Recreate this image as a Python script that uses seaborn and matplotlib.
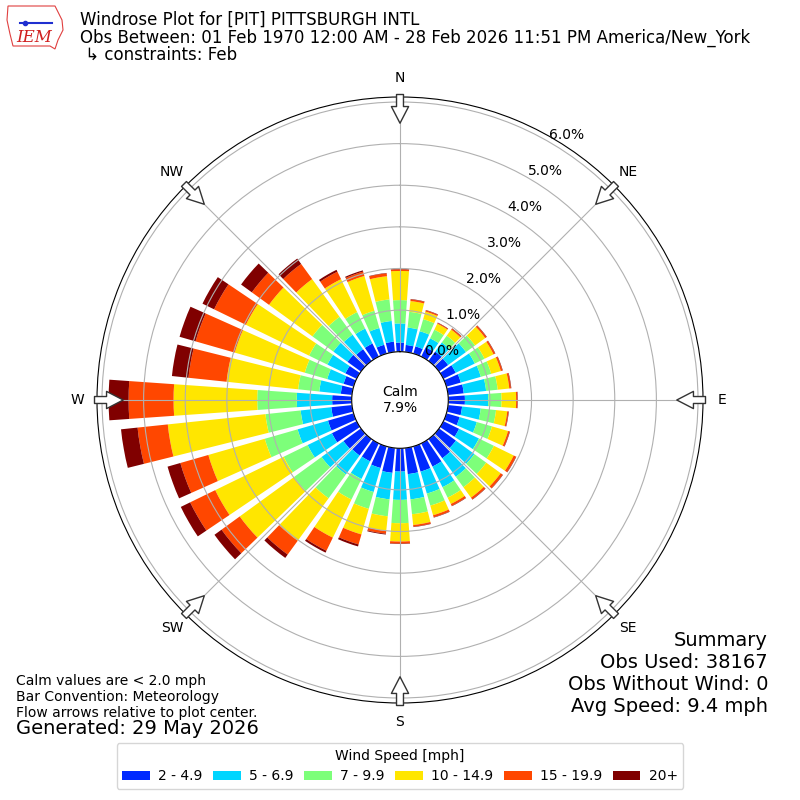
import numpy as np
import matplotlib
matplotlib.use("Agg")
import matplotlib.pyplot as plt
import seaborn as sns
from matplotlib.patches import Patch, Polygon
from matplotlib.lines import Line2D

# ---------------- data (percent of observations, cumulative outer edge per speed class) -------------
directions = list(range(0, 360, 10))
speed_labels = ["2 - 4.9", "5 - 6.9", "7 - 9.9", "10 - 14.9", "15 - 19.9", "20+"]
compass_labels = ["N", "NE", "E", "SE", "S", "SW", "W", "NW"]
ring_values = [0, 1, 2, 3, 4, 5, 6]

edge_2 = [0.22, 0.17, 0.18, 0.25, 0.28, 0.27, 0.33, 0.36, 0.38, 0.40, 0.34, 0.33,
          0.42, 0.50, 0.57, 0.62, 0.63, 0.63, 0.56, 0.60, 0.54, 0.48, 0.49, 0.52,
          0.66, 0.64, 0.50, 0.47, 0.27, 0.25, 0.30, 0.40, 0.35, 0.35, 0.22, 0.25]
edge_5 = [0.68, 0.59, 0.56, 0.49, 0.55, 0.80, 0.84, 0.86, 0.92, 0.96, 0.79, 0.76,
          0.95, 1.05, 1.12, 1.17, 1.18, 1.24, 1.24, 1.24, 1.14, 0.95, 1.05, 1.17,
          1.31, 1.40, 1.24, 1.32, 0.79, 0.66, 0.78, 0.82, 0.78, 0.75, 0.64, 0.75]
edge_7 = [1.24, 0.97, 0.86, 0.72, 0.75, 1.07, 1.10, 1.12, 1.20, 1.28, 1.16, 1.14,
          1.35, 1.40, 1.43, 1.45, 1.48, 1.60, 1.80, 1.65, 1.56, 1.50, 1.76, 1.99,
          1.95, 2.22, 2.09, 2.27, 1.30, 1.22, 1.27, 1.44, 1.31, 1.19, 1.07, 1.27]
edge_10 = [1.94, 1.23, 1.05, 0.88, 0.93, 1.37, 1.34, 1.36, 1.48, 1.63, 1.43, 1.54,
           1.88, 1.83, 1.74, 1.62, 1.72, 1.86, 2.24, 2.00, 2.20, 2.52, 3.02, 3.60,
           3.78, 3.63, 4.45, 4.28, 3.03, 2.97, 2.96, 2.73, 2.43, 2.07, 1.94, 1.83]
edge_15 = [1.98, 1.27, 1.08, 0.90, 0.96, 1.41, 1.38, 1.40, 1.52, 1.66, 1.46, 1.58,
           1.94, 1.89, 1.79, 1.67, 1.77, 1.90, 2.29, 2.07, 2.45, 2.87, 3.43, 4.14,
           4.45, 4.33, 5.18, 5.36, 3.95, 3.95, 3.81, 3.24, 2.88, 2.27, 2.05, 1.90]
edge_20 = [1.99, 1.28, 1.09, 0.91, 0.97, 1.42, 1.39, 1.41, 1.53, 1.67, 1.47, 1.59,
           1.95, 1.90, 1.80, 1.68, 1.78, 1.91, 2.30, 2.09, 2.50, 2.92, 3.53, 4.35,
           4.70, 4.65, 5.58, 5.84, 4.35, 4.35, 4.12, 3.56, 3.04, 2.32, 2.08, 1.91]
calm_pct = 7.9

# ---------------- style ----------------
plt.rcParams['font.family'] = ['DejaVu Sans']
jet = matplotlib.colormaps['jet']
palette = sns.color_palette([jet(v) for v in [1/6, 2/6, 3/6, 4/6, 5/6, 1.0]])

fig = plt.figure(figsize=(8, 8), dpi=100)
ax = fig.add_axes([0.12125, 0.12125, 0.7575, 0.7575], projection='polar')
ax.set_theta_zero_location('N')
ax.set_theta_direction(-1)

theta = np.deg2rad(directions)
width = np.deg2rad(8)
bottom = np.zeros(len(directions))
for edges, color, lab in zip([edge_2, edge_5, edge_7, edge_10, edge_15, edge_20],
                             palette, speed_labels):
    top = np.array(edges)
    ax.bar(theta, top - bottom, width=width, bottom=bottom, color=color,
           linewidth=0, label=lab)
    bottom = top

ax.set_ylim(0, 6.12)
ax.set_rorigin(-1.16)
ax.set_yticks(ring_values)
ax.set_yticklabels([f"{v:.1f}%" for v in ring_values], fontsize=10)
ax.set_rlabel_position(30)
ax.set_thetagrids(np.arange(0, 360, 45), compass_labels)
ax.tick_params(axis='x', pad=3.5, labelsize=10)
ax.grid(True, color='#b0b0b0', linewidth=0.8)

# flow arrows
for ang in range(0, 360, 45):
    t = np.deg2rad(ang)
    ax.annotate("", xy=(t, 5.49), xytext=(t, 6.18),
                arrowprops=dict(arrowstyle="simple,head_length=0.6,head_width=0.62,tail_width=0.25",
                                fc='white', ec='#333333', lw=1.0, shrinkA=0, shrinkB=0,
                                mutation_scale=20),
                annotation_clip=False, zorder=6)

ax.text(0.5, 0.5, f"Calm\n{calm_pct}%", transform=ax.transAxes, ha='center',
        va='center', fontsize=10)

# ---------------- titles ----------------
fig.text(0.1, 1 - 20 / 800, "Windrose Plot for [PIT] PITTSBURGH INTL", fontsize=12, va='center')
fig.text(0.1, 1 - 38 / 800,
         "Obs Between: 01 Feb 1970 12:00 AM - 28 Feb 2026 11:51 PM America/New_York",
         fontsize=12, va='center')
fig.text(0.1, 1 - 55 / 800, " \u21b3 constraints: Feb", fontsize=12, va='center')

# logo approximation
logo = Polygon([(8, 6), (55, 6), (58, 12), (62, 20), (63, 30), (58, 40), (55, 49),
                (50, 46), (13, 46), (10, 34), (7, 20)],
               closed=True, fill=False, ec='#e04040', lw=0.8,
               transform=None)
logo.set_xy([(x, 800 - y) for x, y in logo.get_xy()])
fig.add_artist(logo)
fig.add_artist(Line2D([20, 52], [800 - 23, 800 - 23], transform=None, color='#1f2fd0', lw=1.5))
fig.add_artist(Line2D([25], [800 - 23], transform=None, color='#1f2fd0', marker='o', ms=3))
fig.text(16 / 800, 1 - 38 / 800, "IEM", fontsize=12, color='#d02020', family='DejaVu Serif',
         style='italic', va='center')

# summary
summary = ["Summary", "Obs Used: 38167", "Obs Without Wind: 0", "Avg Speed: 9.4 mph"]
for i, s in enumerate(summary):
    fig.text(768 / 800, 1 - (640 + 22 * i) / 800, s, fontsize=14, ha='right', va='center')

notes = ["Calm values are < 2.0 mph", "Bar Convention: Meteorology",
         "Flow arrows relative to plot center."]
for i, s in enumerate(notes):
    fig.text(16 / 800, 1 - (681 + 16 * i) / 800, s, fontsize=10, va='center')
fig.text(16 / 800, 1 - 729 / 800, "Generated: 29 May 2026", fontsize=14, va='center')

handles = [Patch(facecolor=c, label=l) for c, l in zip(palette, speed_labels)]
fig.legend(handles=handles, loc='center', bbox_to_anchor=(0.5, 1 - 766 / 800), ncol=6,
           title="Wind Speed [mph]", fontsize=10, title_fontsize=10,
           columnspacing=0.75, handletextpad=0.6)

fig.savefig("out.png", dpi=100)
